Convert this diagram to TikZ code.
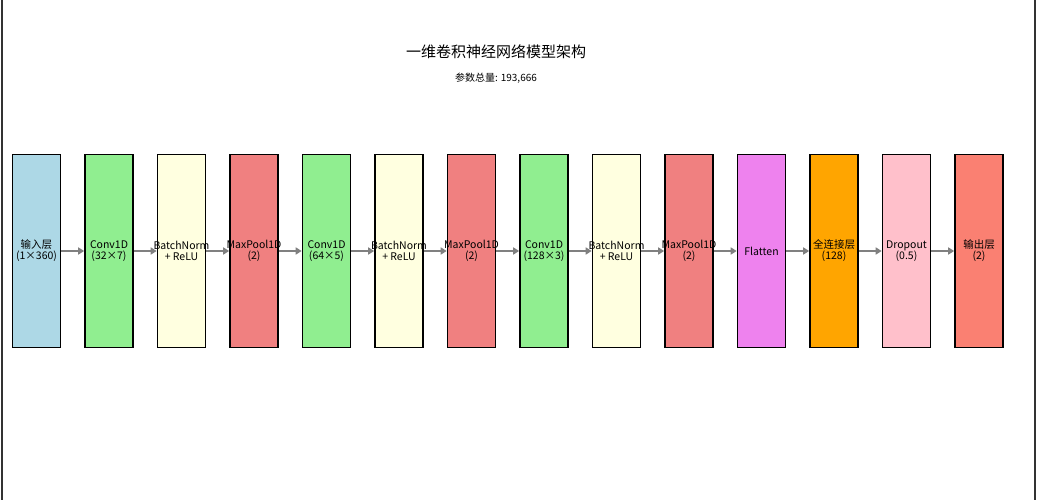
\documentclass[tikz,border=0pt]{standalone}
\usepackage{fontspec}
\setmainfont{Noto Sans CJK SC}
\newfontfamily\monof{DejaVu Sans Mono}
\usetikzlibrary{arrows.meta}
\definecolor{cA}{HTML}{ADD8E6}\definecolor{cB}{HTML}{90EE90}\definecolor{cC}{HTML}{FFFFE0}
\definecolor{cD}{HTML}{F08080}\definecolor{cE}{HTML}{EE82EE}\definecolor{cF}{HTML}{FFA500}
\definecolor{cG}{HTML}{FFC0CB}\definecolor{cH}{HTML}{FA8072}
\tikzset{layer/.style={draw=black,line width=1.6pt,minimum width=48pt,minimum height=193pt,inner sep=0pt},
lbl/.style={font=\fontsize{10.5}{11}\selectfont,align=center,inner sep=0pt},
conn/.style={draw=gray,line width=2.2pt,-{Triangle[length=6pt,width=7pt]}}}
\begin{document}
\begin{tikzpicture}[x=1pt,y=-1pt]
\useasboundingbox[fill=white] (0,0) rectangle (1038,500);
\draw[black!80,line width=1.2pt] (2,0) -- (2,500) (1035,0) -- (1035,500);
\node[font=\fontsize{15}{16}\selectfont] (title) at (496,52) {一维卷积神经网络模型架构};
\node[font=\fontsize{10}{11}\selectfont] (sub) at (496,78) {参数总量: 193,666};
\foreach \i/\c/\t in {0/cA/{输入层\\(1×360)},1/cB/{Conv1D\\(32×7)},2/cC/{BatchNorm\\+ ReLU},3/cD/{MaxPool1D\\(2)},4/cB/{Conv1D\\(64×5)},5/cC/{BatchNorm\\+ ReLU},6/cD/{MaxPool1D\\(2)},7/cB/{Conv1D\\(128×3)},8/cC/{BatchNorm\\+ ReLU},9/cD/{MaxPool1D\\(2)},10/cE/{Flatten},11/cF/{全连接层\\(128)},12/cG/{Dropout\\(0.5)},13/cH/{输出层\\(2)}}{
  \node[layer,fill=\c] (b\i) at (36.5+72.5*\i,251) {};
  \node[lbl] (t\i) at (b\i) {\t};
}
\foreach \i [evaluate=\i as \j using int(\i+1)] in {0,...,12}{
  \draw[conn] (b\i.east) -- (b\j.west);
}
\end{tikzpicture}
\end{document}
